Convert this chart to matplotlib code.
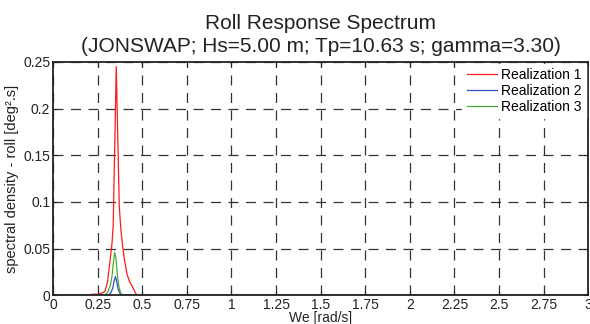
import numpy as np
import matplotlib.pyplot as plt

plt.rcParams['font.family'] = ['Liberation Sans', 'DejaVu Sans']

# roll response spectra, three realizations (We in rad/s, S in deg^2.s)
we_r1 = [0.0, 0.20, 0.22, 0.25, 0.27, 0.29, 0.305, 0.32, 0.33, 0.337, 0.354, 0.371, 0.38,
         0.39, 0.40, 0.415, 0.43, 0.445, 0.46, 0.47, 3.0]
s_r1 = [0.0, 0.0, 0.001, 0.001, 0.002, 0.004, 0.014, 0.038, 0.055, 0.075, 0.245, 0.095,
        0.07, 0.052, 0.038, 0.022, 0.014, 0.009, 0.003, 0.0, 0.0]

we_r2 = [0.0, 0.31, 0.325, 0.335, 0.343, 0.35, 0.357, 0.365, 0.375, 0.385, 3.0]
s_r2 = [0.0, 0.0, 0.003, 0.008, 0.016, 0.020, 0.014, 0.006, 0.002, 0.0, 0.0]

we_r3 = [0.0, 0.29, 0.305, 0.32, 0.33, 0.338, 0.345, 0.352, 0.36, 0.37, 0.38, 0.39, 3.0]
s_r3 = [0.0, 0.0, 0.003, 0.010, 0.020, 0.035, 0.046, 0.040, 0.022, 0.008, 0.002, 0.0, 0.0]

xticks = [0, 0.25, 0.5, 0.75, 1, 1.25, 1.5, 1.75, 2, 2.25, 2.5, 2.75, 3]
xticklabels = ['0', '0.25', '0.5', '0.75', '1', '1.25', '1.5', '1.75', '2', '2.25', '2.5', '2.75', '3']
yticks = [0, 0.05, 0.1, 0.15, 0.2, 0.25]
yticklabels = ['0', '0.05', '0.1', '0.15', '0.2', '0.25']

fig = plt.figure(figsize=(5.9, 3.24), dpi=100)
ax = fig.add_axes([0.09, 0.089, 0.907, 0.72])

ax.plot(we_r1, s_r1, color='#ff1a1a', lw=0.9, label='Realization 1')
ax.plot(we_r2, s_r2, color='#3050c0', lw=0.9, label='Realization 2')
ax.plot(we_r3, s_r3, color='#40b030', lw=0.9, label='Realization 3')

ax.set_xlim(0, 3)
ax.set_ylim(0, 0.25)
ax.set_xticks(xticks)
ax.set_xticklabels(xticklabels)
ax.set_yticks(yticks)
ax.set_yticklabels(yticklabels)
ax.tick_params(direction='in', length=3, labelsize=10, colors='#222222',
               top=True, right=True, pad=2)
ax.grid(True, color='#333333', linestyle=(0, (8, 6)), lw=0.9)
for sp in ax.spines.values():
    sp.set_linewidth(1.3)
    sp.set_color('#222222')

ax.set_xlabel('We [rad/s]', fontsize=10, labelpad=-1, color='#222222')
ax.set_ylabel('spectral density - roll [deg².s]', fontsize=10.5, labelpad=3, color='#222222')
ax.set_title('Roll Response Spectrum\n(JONSWAP; Hs=5.00 m; Tp=10.63 s; gamma=3.30)',
             fontsize=15, color='#222222', pad=7, linespacing=1.25)

leg = ax.legend(loc='upper right', fontsize=10, frameon=True, fancybox=False,
                borderaxespad=0.15, handlelength=2.2, handletextpad=0.3,
                labelspacing=0.15, borderpad=0.3)
leg.get_frame().set_edgecolor('white')
leg.get_frame().set_alpha(1)

fig.savefig('out.png', dpi=100)
